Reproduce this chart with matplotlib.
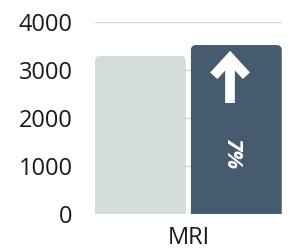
import matplotlib
matplotlib.use("Agg")
import matplotlib.pyplot as plt
from matplotlib.patches import FancyBboxPatch

# data
category = "MRI"
values = [3290, 3520]
bar_colors = ["#d3dcd9", "#475b6e"]
change_label = "7%"
yticks = [0, 1000, 2000, 3000, 4000]

plt.rcParams['font.family'] = ['Open Sans', 'DejaVu Sans']

fig = plt.figure(figsize=(2.93, 2.5), dpi=100)
ax = fig.add_axes([0.324, 0.144, 0.638, 0.768])

width = 0.379
xpos = [-0.2, 0.2]
bars = ax.bar(xpos, values, width=width, color="none", zorder=0)

# rounded top corners
xscale = 0.78 / 187
yscale = 4000 / 192
r = 5 * xscale
for b, c in zip(bars, bar_colors):
    p = FancyBboxPatch((b.get_x(), -300), b.get_width(), b.get_height() + 300,
                       boxstyle="round,pad=0,rounding_size=%f" % r,
                       mutation_aspect=yscale / xscale,
                       facecolor=c, edgecolor="none", zorder=2)
    ax.add_patch(p)

ax.set_xlim(-0.39, 0.39)
ax.set_ylim(0, 4000)
ax.set_yticks(yticks)
ax.set_yticklabels([str(t) for t in yticks])
ax.set_xticks([0])
ax.set_xticklabels([category])
ax.tick_params(axis="both", length=0, labelsize=17, colors="#1a1a1a")
ax.tick_params(axis="y", pad=16)
ax.tick_params(axis="x", pad=9)
ax.grid(axis="y", color="#d9d9d9", linewidth=1, zorder=1)
ax.set_axisbelow(True)
for s in ax.spines.values():
    s.set_visible(False)

# up arrow on the second bar: shaft and chevron head
ax_x = 0.174
tip = 3250
ax.plot([ax_x, ax_x], [2310, tip], color="white", lw=7,
        solid_capstyle="butt", zorder=3)
ax.plot([ax_x - 0.068, ax_x, ax_x + 0.068], [tip - 370, tip, tip - 370],
        color="white", lw=7, solid_capstyle="butt", solid_joinstyle="miter",
        zorder=3)
ax.text(0.181, 1250, change_label, rotation=-90, color="white",
        fontsize=16, fontweight="bold", fontstyle="italic",
        ha="center", va="center", zorder=3)

fig.savefig("out.png", dpi=100)
